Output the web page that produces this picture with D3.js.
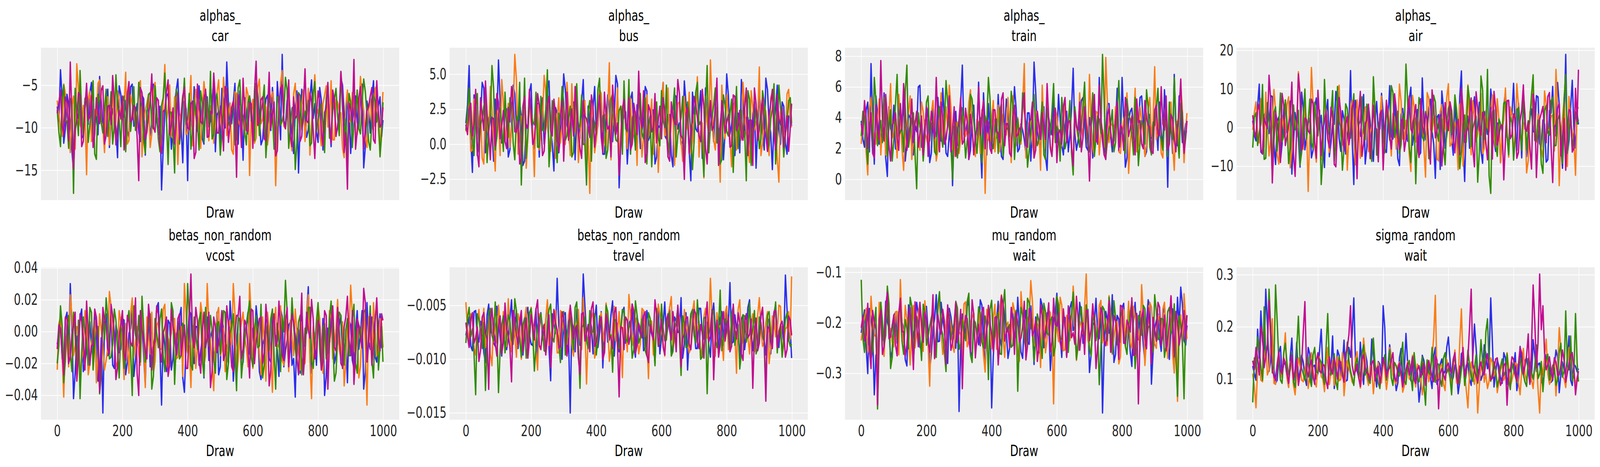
<!DOCTYPE html>
<html>
<head>
<meta charset="utf-8">
<script src="https://cdn.jsdelivr.net/npm/d3@7"></script>
<style>
  html, body { margin: 0; padding: 0; background: #ffffff; overflow: hidden; }
  #trace-plot svg { display: block; }
</style>
</head>
<body>
<div id="trace-plot"></div>
<script>
// Draw index of the stored samples: main set every 10th draw (plus the last), mid set in between
const draws = d3.range(0, 1000, 10).concat([999]);
const drawsMid = d3.range(5, 1000, 10);
const xTicks = [0, 200, 400, 600, 800, 1000];
const xTickLabels = ["0", "200", "400", "600", "800", "1000"];

// Chain colours (arviz default cycle)
const chainColors = ["#2a2eec", "#fa7c17", "#328c06", "#c10c90"];

// Panel titles
const titles = [
  ["alphas_", "car"], ["alphas_", "bus"], ["alphas_", "train"], ["alphas_", "air"],
  ["betas_non_random", "vcost"], ["betas_non_random", "travel"], ["mu_random", "wait"], ["sigma_random", "wait"]
];

// Y ticks per panel
const yTicks = [
  [-15, -10, -5], [-2.5, 0, 2.5, 5], [0, 2, 4, 6, 8], [-10, 0, 10, 20],
  [-0.04, -0.02, 0, 0.02, 0.04], [-0.015, -0.01, -0.005], [-0.3, -0.2, -0.1], [0.1, 0.2, 0.3]
];
const yTickLabels = [
  ["\u221215", "\u221210", "\u22125"], ["\u22122.5", "0.0", "2.5", "5.0"], ["0", "2", "4", "6", "8"], ["\u221210", "0", "10", "20"],
  ["\u22120.04", "\u22120.02", "0.00", "0.02", "0.04"], ["\u22120.015", "\u22120.010", "\u22120.005"], ["\u22120.3", "\u22120.2", "\u22120.1"], ["0.1", "0.2", "0.3"]
];

// alphas_ car, one array per chain
const alphasCar = [
  [-7.5,-3.2,-11.8,-6.1,-9.4,-15.1,-8.2,-5.6,-10.9,-7.0,-5.9,-11.6,-8.8,-4.0,-9.7,-6.5,-12.3,-7.8,-10.2,-5.1,-9.0,-6.8,-11.1,-4.9,-8.4,-10.5,-6.2,-13.2,-7.7,-9.6,-5.4,-10.8,-17.3,-8.1,-6.0,-12.5,-7.3,-4.3,-9.9,-6.9,-16.2,-8.7,-5.2,-10.4,-7.6,-11.9,-6.4,-9.2,-4.6,-8.5,-12.0,-6.7,-2.3,-9.5,-7.1,-10.7,-5.7,-13.8,-8.0,-6.3,-10.1,-4.8,-8.9,-11.4,-6.6,-9.3,-5.3,-12.8,-7.4,-1.4,-9.8,-6.0,-11.0,-7.9,-15.3,-5.5,-8.6,-10.3,-4.4,-7.2,-11.7,-6.8,-9.0,-5.0,-12.2,-7.5,-10.0,-4.2,-8.3,-6.1,-13.0,-7.7,-9.4,-5.8,-14.7,-6.9,-10.6,-4.5,-8.8,-6.4,-9.1],
  [-6.8,-10.2,-4.9,-8.1,-12.9,-6.3,-2.5,-9.6,-7.4,-15.5,-5.7,-11.3,-8.5,-4.4,-10.0,-7.0,-12.0,-5.2,-9.3,-6.6,-8.9,-3.5,-11.5,-7.2,-9.8,-5.0,-13.4,-8.0,-6.1,-10.7,-4.7,-9.1,-12.6,-2.6,-7.8,-11.0,-6.4,-14.3,-8.3,-5.5,-10.5,-3.9,-8.6,-6.9,-12.4,-4.6,-9.4,-7.5,-11.8,-5.9,-8.2,-4.1,-10.9,-7.1,-13.1,-6.0,-9.7,-8.8,-5.3,-15.6,-6.7,-11.2,-4.3,-9.0,-7.6,-10.4,-5.8,-16.8,-8.4,-3.3,-10.1,-6.5,-12.7,-4.8,-8.7,-7.3,-11.6,-5.4,-9.5,-3.8,-7.9,-12.1,-6.2,-9.9,-4.5,-11.4,-7.0,-8.3,-13.5,-5.6,-9.2,-6.8,-10.8,-4.0,-8.0,-12.3,-6.6,-10.3,-5.1,-12.8,-5.8],
  [-7.9,-12.2,-5.0,-9.3,-6.6,-17.7,-8.4,-3.3,-11.0,-6.2,-9.7,-4.5,-13.7,-7.0,-10.6,-5.5,-8.8,-11.9,-3.8,-9.1,-6.9,-12.8,-5.3,-8.5,-10.3,-4.7,-7.6,-13.0,-6.1,-9.8,-5.1,-11.3,-7.4,-3.6,-14.3,-8.2,-15.3,-6.4,-10.0,-4.2,-8.9,-12.5,-6.7,-9.4,-5.7,-11.7,-7.2,-3.4,-10.8,-6.0,-13.2,-8.0,-5.4,-9.9,-7.5,-11.1,-4.4,-8.6,-12.0,-6.3,-9.5,-4.9,-10.9,-7.1,-13.5,-5.8,-8.3,-11.5,-6.5,-9.2,-4.1,-12.4,-7.7,-14.9,-5.9,-10.2,-8.1,-6.8,-11.8,-4.6,-9.0,-7.3,-12.9,-5.2,-10.5,-6.7,-8.7,-3.5,-11.2,-13.9,-7.0,-9.6,-5.6,-10.7,-4.3,-8.4,-12.6,-6.2,-9.3,-13.4,-7.0],
  [-8.3,-5.6,-10.8,-7.0,-2.3,-14.8,-9.1,-6.2,-11.6,-4.8,-8.7,-12.3,-6.5,-9.5,-5.1,-10.9,-7.4,-3.9,-12.0,-8.0,-6.3,-10.2,-4.6,-9.0,-7.7,-16.2,-5.9,-11.3,-8.5,-3.7,-10.5,-6.8,-13.0,-7.9,-4.4,-9.6,-11.9,-6.0,-8.8,-5.3,-10.0,-7.2,-13.6,-4.9,-9.3,-6.6,-11.1,-8.1,-3.6,-10.6,-7.5,-12.7,-5.5,-9.8,-6.9,-15.8,-8.4,-4.2,-10.3,-7.1,-12.4,-2.2,-9.2,-6.4,-11.5,-3.5,-8.6,-13.3,-7.3,-5.0,-10.1,-4.4,-12.2,-8.9,-6.1,-11.0,-3.1,-9.4,-7.0,-13.6,-5.7,-10.7,-8.2,-4.7,-11.8,-6.7,-9.7,-3.4,-12.9,-17.2,-7.8,-2.0,-10.4,-5.2,-12.5,-8.0,-6.3,-11.4,-4.5,-9.9,-7.6]
];
const alphasCarMid = [
  [-9.2,-6.4,-10.1,-7.3,-12.7,-5.8,-8.9,-11.2,-6.9,-9.6,-4.7,-8.2,-10.8,-7.0,-12.1,-5.5,-9.4,-7.7,-13.5,-6.1,-8.6,-10.4,-5.2,-9.8,-7.2,-11.6,-6.6,-8.0,-10.9,-4.9,-9.1,-7.5,-12.4,-6.3,-8.7,-10.2,-5.6,-9.3,-14.1,-7.8,-6.0,-10.6,-8.4,-5.1,-11.3,-7.4,-9.9,-6.7,-12.8,-8.1,-5.4,-10.0,-7.1,-9.5,-4.8,-11.9,-8.3,-6.5,-10.7,-7.6,-9.0,-5.9,-12.0,-8.8,-6.2,-10.3,-7.9,-4.6,-11.4,-9.2,-6.8,-8.5,-13.0,-5.7,-9.7,-7.3,-11.1,-6.4,-8.9,-10.5,-5.3,-12.6,-7.0,-9.4,-6.1,-10.8,-8.2,-5.0,-11.7,-7.7,-9.6,-6.3,-10.1,-4.9,-12.2,-8.0,-6.6,-9.8,-7.4,-11.0],
  [-8.4,-11.0,-6.0,-9.7,-7.3,-12.5,-5.4,-10.2,-8.1,-6.7,-11.6,-7.9,-4.8,-9.3,-12.9,-6.4,-8.8,-10.6,-5.7,-9.0,-7.5,-11.9,-6.2,-8.5,-10.0,-4.5,-9.6,-7.1,-12.3,-5.9,-8.7,-10.5,-6.8,-9.2,-5.0,-11.2,-7.7,-8.9,-6.3,-10.8,-7.4,-12.1,-5.5,-9.9,-8.0,-6.6,-11.5,-7.2,-9.4,-4.4,-10.3,-6.9,-8.6,-12.6,-5.8,-9.1,-7.6,-10.9,-6.1,-8.3,-11.8,-5.3,-9.5,-7.0,-12.0,-6.5,-8.2,-10.4,-4.7,-9.8,-7.8,-11.3,-6.0,-8.7,-10.1,-5.6,-9.0,-13.2,-6.8,-8.4,-10.7,-7.2,-5.1,-9.6,-11.4,-6.7,-8.1,-12.4,-7.5,-9.3,-5.9,-10.6,-8.5,-6.3,-11.1,-7.9,-9.7,-5.4,-10.2,-8.8],
  [-10.5,-6.8,-9.1,-12.4,-7.2,-5.4,-10.9,-8.3,-6.6,-11.7,-8.0,-13.1,-6.1,-9.4,-7.7,-11.0,-5.8,-9.9,-7.4,-12.2,-6.3,-8.8,-10.4,-5.2,-9.5,-7.0,-11.4,-8.6,-5.9,-10.1,-7.8,-12.8,-6.5,-9.0,-8.2,-10.7,-5.5,-11.9,-7.3,-9.6,-6.0,-10.3,-8.5,-12.6,-7.1,-5.7,-9.8,-11.3,-6.9,-8.4,-10.8,-6.2,-9.3,-7.6,-12.0,-5.3,-8.9,-10.6,-7.0,-9.2,-11.5,-6.7,-8.1,-5.0,-10.2,-7.9,-12.5,-6.4,-9.7,-8.3,-5.6,-10.0,-7.5,-11.8,-6.2,-9.1,-8.7,-12.1,-5.9,-10.4,-7.3,-9.5,-6.5,-11.2,-8.0,-5.4,-10.9,-7.7,-9.0,-6.0,-12.3,-8.6,-10.1,-7.1,-5.8,-11.6,-9.4,-6.8,-8.2,-10.7],
  [-7.1,-9.8,-6.4,-11.5,-8.6,-10.3,-5.9,-12.2,-7.8,-9.1,-6.2,-10.7,-8.4,-5.6,-11.9,-7.5,-9.6,-6.8,-10.0,-8.9,-12.6,-6.0,-9.3,-7.4,-11.1,-5.3,-8.7,-10.5,-7.0,-9.9,-6.5,-12.0,-8.1,-5.8,-10.8,-7.7,-9.2,-11.4,-6.3,-8.5,-10.2,-6.9,-12.9,-7.3,-9.5,-5.5,-11.0,-8.3,-6.6,-10.6,-8.8,-5.2,-11.7,-7.6,-9.0,-6.1,-12.3,-8.0,-10.4,-7.2,-5.7,-9.7,-6.7,-11.3,-8.2,-10.1,-7.0,-12.7,-5.4,-9.4,-7.9,-10.9,-6.4,-8.6,-11.6,-7.4,-9.2,-5.9,-10.3,-8.7,-6.8,-12.1,-7.7,-9.9,-5.6,-11.0,-8.4,-6.2,-10.6,-7.1,-9.3,-12.5,-6.5,-8.9,-10.0,-7.5,-5.3,-11.8,-8.1,-9.6]
];

// alphas_ bus
const alphasBus = [
  [1.5,5.6,-2.0,2.7,0.3,4.4,-0.6,1.8,0.9,3.2,6.0,0.1,2.4,-0.9,1.3,3.6,0.6,2.0,-1.2,1.1,4.3,-0.3,2.9,1.6,0.0,3.9,1.0,-1.9,2.2,0.7,5.0,1.4,-0.5,3.0,1.9,0.4,4.6,-2.3,1.2,2.6,0.8,3.4,-0.7,1.7,2.8,0.2,4.9,-3.1,1.5,2.3,0.5,3.7,-0.2,1.9,1.0,4.1,0.3,2.5,-1.4,1.3,3.1,0.6,2.1,-0.8,3.5,1.1,0.0,4.5,1.8,-2.6,2.4,0.9,3.8,-0.4,1.6,2.7,0.2,4.0,1.4,-1.1,5.0,0.7,2.9,1.2,-0.6,3.3,1.9,0.4,2.2,-1.7,3.6,0.8,4.7,1.5,-1.8,2.5,1.0,3.0,0.1,2.0,1.3],
  [0.9,3.1,-0.4,2.2,1.5,-1.0,3.7,0.6,2.5,-1.9,1.8,4.6,0.2,2.9,1.1,6.4,-0.7,2.0,3.3,0.4,1.6,-2.3,2.8,0.9,4.9,1.3,-0.5,3.0,1.9,0.1,2.6,4.4,-0.8,1.4,3.5,0.7,2.2,-1.6,-3.5,1.8,0.3,3.9,1.2,-0.3,5.8,2.1,0.8,-1.2,2.7,1.5,3.6,0.0,2.3,4.2,-0.9,1.7,0.5,3.2,1.0,-2.0,2.4,0.6,4.0,1.6,-1.5,2.9,0.2,3.4,1.1,-0.6,2.0,4.8,0.9,-2.4,1.5,6.0,0.3,2.6,-2.7,1.9,3.5,0.4,2.2,-0.4,1.3,4.4,0.8,-1.3,2.7,1.6,5.5,0.1,2.3,-0.8,3.7,1.0,-2.7,2.4,0.6,3.9,1.2],
  [1.0,4.0,0.3,2.6,-0.5,1.8,3.2,0.9,5.6,-0.4,2.1,1.2,3.7,0.5,2.8,-1.1,1.6,-2.9,4.7,0.8,2.4,1.4,-0.2,3.4,1.0,5.3,0.4,2.2,-1.3,1.7,3.0,0.6,2.7,-0.6,4.3,1.3,0.0,-2.9,3.1,1.9,0.7,4.7,2.0,-1.0,1.5,3.6,0.3,2.4,-0.7,1.1,4.6,1.8,-0.4,2.9,0.8,3.3,1.4,-1.6,2.1,0.5,3.8,1.2,-0.9,2.5,4.0,0.6,1.9,-1.8,3.0,1.0,0.2,4.4,1.6,-2.3,5.6,1.3,2.8,0.1,-1.4,3.5,0.9,2.2,-2.0,4.1,1.5,0.4,-2.6,3.2,1.1,2.6,-0.3,3.8,1.7,0.0,2.5,-1.4,4.2,1.4,0.7,3.1,1.5],
  [1.4,2.5,0.6,3.9,-1.6,2.1,4.5,0.8,1.9,-0.1,3.0,1.3,0.2,2.6,4.1,0.9,1.7,-1.0,3.4,1.2,2.2,0.4,3.6,1.5,-0.5,2.8,1.0,3.2,0.3,2.0,-1.2,3.7,1.4,0.6,2.4,-0.3,3.1,1.8,0.5,2.7,1.1,3.5,-0.6,2.0,1.3,4.2,0.7,-2.2,2.5,1.6,3.3,0.0,2.1,5.2,1.2,-1.3,2.8,0.9,3.6,1.7,0.4,2.3,-0.9,3.0,1.5,4.6,0.6,-2.5,2.6,1.0,3.4,1.9,0.2,2.7,-1.4,3.1,1.3,4.7,0.5,2.2,1.6,-0.2,3.5,1.0,2.4,0.3,4.0,1.7,-1.5,2.9,1.1,3.3,0.6,2.0,3.9,-0.4,1.8,2.6,0.9,-0.5,2.9]
];
const alphasBusMid = [
  [2.8,0.4,3.5,-0.8,1.9,4.0,0.7,2.3,-1.2,1.6,3.1,0.2,2.5,-0.4,4.2,1.1,2.9,-1.5,1.4,3.7,0.5,2.1,-0.9,3.3,1.2,4.5,0.0,2.6,-0.6,1.8,3.9,0.9,2.2,-1.1,1.5,3.0,0.3,2.7,-0.2,4.1,1.3,2.4,-0.7,3.5,0.8,1.9,4.3,0.1,2.0,-1.4,3.2,1.0,2.8,-0.3,1.7,3.8,0.6,2.4,-0.9,1.2,4.4,0.4,2.1,-1.6,3.4,1.5,0.2,2.9,-0.5,3.7,1.1,2.3,-1.0,4.0,0.7,1.8,3.1,-0.3,2.6,0.9,3.5,1.4,-0.8,2.2,4.6,0.5,1.9,-1.3,3.0,1.2,2.5,-0.4,3.9,0.8,1.6,4.2,0.0,2.7,-0.7,1.9],
  [1.9,-0.5,3.2,0.8,2.6,-1.4,1.3,4.1,0.2,2.4,-0.8,3.0,1.5,-0.2,2.2,4.6,0.6,1.8,-1.7,3.4,1.0,2.7,-0.4,1.6,3.8,0.3,2.1,-1.0,3.3,1.2,0.0,2.5,4.3,0.9,-1.3,1.7,3.1,0.4,2.8,-0.6,1.4,3.6,0.1,2.3,-1.1,1.9,4.0,0.7,2.6,-0.3,3.2,1.1,-1.5,2.0,0.5,3.5,1.6,-0.7,2.9,0.8,4.4,1.3,-0.1,2.4,0.6,3.0,-1.2,1.8,3.7,0.2,2.2,-0.9,1.5,3.4,0.9,2.7,-0.4,1.1,4.2,0.4,2.0,-1.6,3.1,1.2,0.3,2.6,-0.2,3.8,1.0,1.7,-0.8,2.9,0.6,3.3,1.4,-1.0,2.3,0.8,3.6,1.5],
  [2.3,0.9,-0.8,3.6,1.4,2.7,-1.3,1.9,4.0,0.5,2.6,-0.5,1.2,3.3,0.1,2.0,4.4,0.8,-1.0,2.9,1.6,3.7,-0.2,1.0,2.5,-1.6,3.1,0.6,2.2,4.1,0.3,1.8,-0.9,2.8,1.1,3.5,0.0,2.4,-1.2,1.5,3.9,0.7,2.1,-0.4,3.2,1.3,0.2,2.7,4.5,0.9,-0.7,2.3,1.6,3.6,0.4,-1.4,2.0,1.0,3.0,-0.1,1.7,4.2,0.5,2.5,-0.9,1.2,3.4,0.8,2.1,-1.8,3.7,1.4,0.0,2.6,-0.6,1.9,4.0,1.1,-1.1,2.8,0.6,3.2,1.5,-0.3,2.4,0.9,3.8,-1.5,1.3,2.1,0.4,3.0,-0.5,1.8,4.3,0.7,2.6,-0.9,1.6,3.3],
  [0.7,2.9,1.5,-0.6,3.3,1.0,2.2,-1.1,1.8,3.6,0.4,2.4,-0.3,1.6,3.0,0.9,-1.4,2.7,1.2,3.9,0.0,1.9,2.8,-0.8,1.4,3.4,0.6,2.1,-0.5,3.1,1.7,0.3,2.5,4.1,0.8,-1.0,2.0,1.3,3.5,-0.2,2.3,0.5,3.7,1.1,-0.9,2.6,1.5,0.2,3.2,1.0,-0.4,2.9,0.7,1.8,3.8,-0.6,2.4,1.2,0.1,2.7,3.3,0.9,-1.2,2.0,1.4,3.6,0.4,2.2,-0.7,1.6,2.8,0.6,3.9,-0.3,1.9,1.0,2.5,-1.5,3.1,0.8,2.1,-0.1,3.4,1.3,0.5,2.6,-0.8,1.7,4.0,0.3,2.3,1.1,-0.5,2.9,0.8,3.5,1.4,-0.2,2.0,1.2]
];

// alphas_ train
const alphasTrain = [
  [3.8,2.1,5.0,7.5,1.0,4.2,2.7,5.6,0.2,3.3,4.8,1.9,3.6,5.2,2.4,4.0,1.6,3.1,6.1,2.2,3.9,1.1,4.6,2.8,3.5,5.9,1.7,2.9,-0.4,4.4,2.5,7.4,3.0,1.3,4.1,2.2,6.3,0.1,3.4,4.9,2.0,3.7,5.5,1.5,3.2,4.5,2.3,6.0,1.8,3.6,2.6,4.3,1.2,7.6,3.1,2.0,4.7,0.6,3.3,5.1,2.4,3.9,1.6,4.4,2.9,7.2,1.9,3.4,5.3,2.1,4.0,1.4,3.7,6.6,2.5,3.0,4.9,1.8,3.5,2.3,6.6,0.8,3.8,4.6,2.0,3.2,5.4,1.5,3.9,2.7,4.3,1.9,3.1,5.8,-0.5,3.6,6.8,2.2,4.1,2.8,3.5],
  [2.3,4.6,0.3,5.3,2.9,3.7,1.6,4.9,2.1,6.2,3.0,1.4,4.2,0.6,3.5,5.4,2.5,3.9,1.9,4.4,2.7,3.3,5.1,1.2,3.8,2.4,4.7,6.1,2.0,3.4,1.7,4.1,2.8,5.0,3.2,1.5,3.6,4.5,-0.9,2.6,3.9,1.8,4.8,2.9,3.4,5.3,1.1,3.1,4.0,2.3,7.5,2.6,3.7,1.4,4.3,0.6,3.5,5.7,2.2,3.0,4.1,1.9,3.6,2.5,4.9,1.3,3.4,5.6,2.7,3.8,6.8,2.0,4.4,1.6,3.2,7.9,2.4,3.6,4.7,1.8,3.0,4.2,0.4,3.5,5.9,2.2,3.9,1.5,4.6,2.8,7.3,3.3,1.7,4.0,2.5,5.0,0.6,3.7,6.1,1.1,4.3],
  [2.8,4.1,1.0,3.5,6.6,2.2,3.8,5.3,1.5,4.5,2.6,6.8,3.1,1.8,7.4,2.9,4.3,-0.6,3.4,1.2,5.0,2.5,3.9,1.6,4.7,2.1,6.4,3.3,0.0,3.7,2.3,4.6,1.4,3.2,5.2,2.7,3.6,1.1,4.1,6.6,2.4,3.5,1.7,4.9,2.8,3.3,5.7,1.3,3.9,2.6,4.4,0.8,3.0,5.5,2.2,3.7,1.6,4.6,2.9,6.2,3.4,1.2,4.0,2.5,5.1,0.3,3.6,2.1,4.8,3.1,1.8,5.6,2.7,3.9,8.1,1.4,3.3,4.5,2.4,6.4,3.0,1.7,4.2,2.9,5.3,0.9,3.8,2.3,4.7,1.6,3.5,5.9,2.6,4.0,1.5,3.2,6.6,2.8,4.9,1.9,3.1],
  [3.6,5.1,2.0,4.3,1.4,3.2,7.7,2.5,4.0,1.2,3.8,2.7,4.9,6.2,1.9,3.5,2.4,4.4,3.0,1.6,4.7,2.9,3.3,6.6,1.8,4.1,2.6,5.4,3.1,1.5,3.9,2.3,4.6,1.3,3.4,2.8,6.0,4.2,2.0,3.7,1.7,4.5,3.0,5.2,2.2,3.6,1.5,4.8,2.9,3.3,5.6,2.1,3.9,1.4,4.4,2.6,3.5,6.2,2.0,4.0,1.1,3.2,4.7,2.4,3.8,0.9,3.4,5.0,2.7,3.6,-0.1,4.3,2.5,6.1,3.0,1.3,4.6,2.2,3.9,1.9,3.3,5.3,2.8,4.1,1.6,3.7,2.3,5.1,3.5,1.8,4.5,2.9,6.0,3.2,1.9,4.2,2.6,3.4,6.5,1.7,3.8]
];
const alphasTrainMid = [
  [2.6,4.5,1.8,3.9,5.4,2.3,3.2,1.4,4.7,3.0,2.0,5.1,3.6,1.2,4.2,2.8,3.5,6.0,2.1,3.8,4.6,1.7,3.1,5.3,2.5,3.9,1.5,4.4,3.3,2.2,5.0,2.9,3.7,1.9,4.8,3.1,2.4,5.6,1.6,3.5,4.1,2.7,3.4,1.3,5.2,2.6,3.9,4.6,2.0,3.2,1.7,4.3,3.0,5.7,2.4,3.6,1.5,4.0,2.9,3.7,5.5,2.2,3.4,1.8,4.6,3.0,2.5,5.1,3.8,1.9,3.3,4.7,2.3,3.6,1.6,4.9,2.8,3.5,5.9,2.1,3.9,1.4,4.4,3.1,2.6,5.3,3.7,1.8,4.2,2.9,3.4,5.0,2.0,3.8,4.5,1.7,3.2,5.4,2.4,3.6],
  [3.9,1.8,4.6,3.1,2.3,5.2,3.5,1.6,4.1,2.7,3.6,5.5,2.0,3.3,4.4,1.3,3.8,2.5,5.0,3.0,2.2,4.3,3.5,1.9,5.6,2.8,3.4,4.7,1.5,3.7,2.6,4.0,3.2,5.8,2.1,3.9,1.7,4.5,3.0,2.4,5.1,3.3,1.8,4.2,2.9,3.6,5.4,2.2,3.1,4.8,1.4,3.7,2.6,4.4,3.2,6.1,2.0,3.5,1.6,4.6,3.0,2.3,5.2,3.8,1.9,4.1,2.7,3.4,5.7,2.5,3.6,1.5,4.3,3.1,2.1,5.0,3.5,2.8,4.2,1.7,3.9,5.6,2.4,3.3,1.8,4.7,3.0,2.2,5.3,3.7,2.6,4.0,1.4,3.5,4.9,2.3,3.8,1.9,4.4,3.2],
  [4.4,2.5,3.7,1.9,5.1,3.0,2.4,4.6,3.6,1.2,4.9,2.8,3.3,5.7,2.1,3.9,1.6,4.3,3.1,2.6,5.4,3.5,1.8,4.1,2.9,3.6,5.0,2.2,3.4,1.4,4.7,3.2,2.5,5.5,3.8,1.7,4.0,2.7,3.5,5.2,2.0,3.9,4.5,1.5,3.3,2.8,4.8,3.0,2.3,5.6,3.7,1.9,4.2,3.1,2.6,5.0,1.3,3.8,4.4,2.4,3.2,5.3,2.0,3.6,1.7,4.7,2.9,3.4,6.3,2.2,3.8,1.5,4.1,3.0,5.1,2.5,3.6,1.8,4.5,3.3,2.7,5.2,3.9,1.6,4.0,2.4,3.5,5.8,2.1,3.7,4.6,2.9,1.9,3.4,5.0,2.6,3.8,1.4,4.3,3.1],
  [2.9,4.0,3.4,1.7,4.8,2.6,3.9,5.5,2.2,3.5,4.3,1.9,3.2,4.6,2.8,5.2,3.6,2.1,4.1,3.3,1.5,4.4,2.7,3.8,5.0,2.3,3.5,1.8,4.7,3.0,5.3,2.5,3.7,4.2,1.6,3.4,2.9,5.1,3.8,2.0,4.5,3.1,2.4,5.6,3.6,1.7,4.0,2.8,3.3,4.9,2.2,3.7,5.0,1.9,3.5,4.3,2.6,3.9,1.5,4.6,3.0,2.3,5.3,3.7,2.1,4.4,3.2,1.8,4.7,2.8,3.5,5.5,2.4,3.9,1.6,4.2,3.1,2.5,5.0,3.6,1.9,4.6,3.3,2.7,5.2,3.8,2.0,4.0,3.4,1.7,4.8,2.9,3.6,5.4,2.3,3.9,1.8,4.5,3.2,2.7]
];

// alphas_ air
const alphasAir = [
  [1.8,-3.4,11.2,-6.8,4.3,-1.5,8.0,-9.5,2.7,-4.2,6.1,0.4,-12.0,3.8,-2.6,9.1,-5.7,1.2,-7.8,5.4,-0.8,3.1,-10.3,7.2,-3.9,0.9,5.8,-6.1,2.3,-1.9,14.7,-14.7,4.6,-2.2,8.5,-5.0,1.6,-8.7,6.7,-0.3,3.5,-6.4,10.8,-2.9,0.6,-9.8,4.9,-1.2,7.3,-4.5,2.0,-7.2,12.8,-3.1,5.2,-0.9,-13.1,3.3,9.4,-5.3,1.4,-2.7,6.3,-8.2,14.6,-13.9,2.9,-4.8,7.9,0.2,-6.0,4.1,-1.7,9.9,-3.6,1.1,-9.0,5.6,-2.4,3.7,11.4,-5.9,0.7,6.9,-7.5,2.5,-1.0,8.2,-4.1,1.9,-8.9,4.4,10.6,-2.0,6.0,-10.5,18.9,-3.3,12.2,-5.2,0.8],
  [-0.6,6.6,-3.9,2.2,9.1,-7.3,0.9,4.5,-9.4,3.0,-1.8,7.9,-5.2,1.5,14.4,-2.6,5.8,-16.5,15.5,-4.7,2.6,-8.3,6.4,-0.4,3.9,-6.0,9.6,-2.1,1.0,-11.0,4.8,-3.3,7.1,-7.9,0.3,5.5,-1.4,10.1,-4.6,2.8,-9.8,6.2,-0.8,3.6,-5.5,11.2,-2.9,1.8,-6.9,8.3,-3.7,0.5,4.2,-12.8,7.6,-1.1,2.9,-8.6,5.9,-0.2,11.3,-4.0,1.3,-10.9,6.8,-2.3,11.0,-7.0,3.4,-1.6,8.8,-5.4,0.1,4.7,-3.0,7.4,-9.1,2.0,-0.9,5.3,-6.6,11.3,-2.5,0.6,-11.7,4.0,9.8,-3.8,1.7,-7.7,6.1,-0.5,3.2,15.0,-15.0,2.4,-4.4,8.0,-1.3,-12.3,4.9],
  [-5.2,3.8,-1.2,11.1,-7.9,2.0,-12.0,5.3,0.8,-3.6,7.1,-9.3,2.6,-0.5,4.4,-6.4,9.9,1.3,-4.0,6.5,-2.1,-14.7,12.4,-1.8,3.4,-8.8,10.6,0.2,-5.5,4.9,-2.7,8.7,-9.1,1.7,-0.9,6.0,-4.3,13.1,-7.1,2.4,-1.6,5.4,-3.2,9.1,0.5,-6.7,3.0,16.4,-5.0,1.1,-14.5,7.7,-2.4,4.1,-8.0,0.4,6.6,-3.5,2.1,-9.6,5.0,-1.3,8.4,-0.1,-6.2,3.2,10.7,-4.9,1.5,-14.1,13.3,-3.0,15.0,-17.0,4.5,-7.4,0.9,6.3,-2.2,2.7,-8.4,4.6,-0.6,9.2,-5.8,1.9,13.6,-3.4,0.0,-11.8,5.7,-1.9,7.8,-4.6,3.1,-9.2,13.7,-0.3,-5.6,4.0,2.1],
  [3.2,-2.5,6.0,-6.7,1.0,13.5,-14.3,4.1,-1.7,8.8,-4.6,0.7,11.7,-12.6,13.8,-5.9,2.4,-0.8,7.3,-3.6,9.6,-7.2,1.6,-2.9,5.2,-9.5,0.3,3.9,-6.1,2.8,-1.1,6.8,-13.2,9.3,-4.2,1.9,-8.0,5.7,-0.5,3.4,-10.9,7.0,-2.0,0.9,4.8,-5.6,2.3,-3.0,8.1,-1.4,5.9,-7.7,0.6,3.7,-4.8,9.7,-2.6,1.2,-9.9,6.4,-0.7,4.3,-6.5,2.0,10.2,-3.8,0.1,7.6,-10.1,4.9,-1.9,2.6,-8.3,5.1,9.3,-4.5,0.4,-13.5,6.9,-2.8,3.5,-7.9,1.8,11.0,-0.9,-5.1,8.6,-12.9,2.2,5.4,-3.9,9.0,-14.2,0.8,6.2,-2.3,-11.0,4.6,-6.3,10.1,15.0]
];
const alphasAirMid = [
  [-2.1,5.6,-6.3,3.0,-0.5,8.2,-4.4,1.7,-8.6,4.9,-1.3,6.8,-3.7,0.8,-10.2,5.1,-2.6,2.4,-5.9,7.6,0.2,-4.0,3.6,-7.5,1.1,9.3,-2.8,4.3,-6.8,0.6,-3.2,7.0,-1.0,2.9,-9.4,5.5,-4.7,1.4,-0.7,8.8,-5.6,2.1,-2.4,6.1,-8.1,3.4,0.0,-3.5,10.4,-1.6,4.6,-6.5,1.9,-0.9,7.3,-4.2,2.6,-10.8,5.0,-2.0,3.2,-7.1,0.5,8.0,-3.9,1.6,-5.3,4.4,-1.8,6.5,-9.2,2.8,-0.4,5.7,-6.1,1.0,-2.9,9.0,-4.5,3.3,-0.6,6.3,-7.8,2.0,-3.4,4.8,-1.1,7.9,-5.0,0.9,-8.3,3.8,-2.2,11.6,-4.6,1.5,-6.9,5.3,-0.2,3.6],
  [4.0,-1.9,7.4,-5.0,0.6,-3.3,9.8,-7.1,2.1,-0.3,5.9,-10.4,3.3,-2.4,8.6,-5.6,1.2,-1.0,6.2,-8.9,0.9,-3.9,4.7,-6.4,2.5,-0.8,10.9,-4.5,3.6,-1.7,7.0,-9.6,1.3,-2.6,5.2,-6.2,0.4,3.9,-4.0,8.1,-1.3,4.5,-7.3,2.6,-0.1,6.7,-3.0,1.9,-11.3,5.4,-2.2,3.1,-5.3,9.0,-0.6,2.3,-8.0,4.1,-1.5,7.7,-4.8,0.8,-2.7,5.8,-9.9,3.7,-0.2,6.9,-3.6,1.4,-6.7,4.3,-1.1,8.4,-5.1,2.2,-0.5,10.2,-7.6,3.0,-2.0,5.6,-4.2,1.7,-8.5,6.0,-1.4,3.5,-5.7,9.4,-0.7,2.9,-6.0,4.8,-2.5,7.2,-10.0,1.8,-3.1,5.5],
  [2.7,-4.6,0.9,-8.2,6.4,-1.7,3.9,-6.0,8.9,-2.3,1.6,-4.9,5.8,-0.4,-9.7,3.1,-2.8,7.3,-5.4,1.0,4.5,-7.6,2.3,-0.2,9.5,-3.8,1.5,-11.0,6.1,-1.2,3.3,-5.3,0.7,7.9,-3.1,2.6,-8.7,5.0,-0.6,3.8,-6.5,1.2,10.8,-2.5,4.2,-4.4,0.3,6.8,-9.0,2.4,-1.0,5.6,-3.4,1.8,-7.2,8.3,-0.9,3.0,-5.1,0.6,6.0,-2.1,4.7,-10.6,1.4,-3.7,7.1,-0.3,2.9,-6.3,9.8,-1.5,-12.5,4.0,-4.3,2.2,-0.8,6.6,-7.0,1.3,-2.6,5.1,-5.9,3.6,-0.1,8.5,-3.3,1.9,-9.3,4.4,-1.4,6.9,-4.7,2.0,-0.5,7.6,-6.6,3.2,-2.0,1.0],
  [-1.0,4.6,-5.8,2.5,-0.2,7.1,-3.5,1.3,-9.0,5.9,-2.3,3.0,-6.7,0.5,8.4,-4.1,2.0,-1.5,6.3,-7.9,1.8,-0.6,4.2,-5.2,2.9,-10.1,7.7,-1.8,0.9,-4.4,5.3,-2.1,3.6,-7.4,1.0,6.0,-3.0,0.2,-8.8,4.4,-1.3,2.8,-5.5,8.7,-2.7,1.5,-6.1,4.0,-0.4,3.1,-4.9,7.4,-1.6,2.2,-9.4,5.6,-0.8,3.3,-3.7,1.1,6.6,-2.5,0.7,-7.0,4.8,-1.2,2.6,-5.7,9.2,-0.5,3.9,-4.0,1.4,-8.1,5.2,-2.2,0.6,-3.3,7.0,-1.9,2.4,-6.4,4.5,-0.3,1.7,-10.7,6.2,-2.8,3.7,-1.1,8.0,-4.8,0.1,5.0,-7.3,2.3,-0.9,4.1,-5.4,1.6]
];

// betas_non_random vcost
const betasVcost = [
  [-.008,.004,-.019,.012,.030,-.042,-.003,.009,-.025,-.011,.006,-.016,.002,-.030,-.051,.011,-.006,-.021,.004,-.013,.008,-.027,-.001,.013,-.018,-.007,.005,-.033,.010,-.012,-.003,.018,-.046,-.009,.007,-.024,.001,-.015,.015,-.038,-.005,.011,-.020,.003,-.012,-.029,.009,-.004,-.017,.012,-.022,.001,-.010,.019,-.031,-.006,.008,-.019,.004,-.014,.002,.016,-.025,-.008,.006,-.017,.011,-.003,-.028,.009,-.012,.004,-.021,-.041,.001,.014,-.009,.028,-.026,-.004,.008,-.016,-.040,.002,.012,-.020,-.007,.010,-.013,-.032,.004,-.023,.013,-.002,-.036,.018,-.011,.006,-.019,.011,-.008],
  [-.024,.009,-.041,-.006,.023,-.015,.003,-.028,-.012,.007,-.020,.000,-.032,.011,-.009,-.018,.025,-.004,-.022,.013,-.010,.005,-.026,.021,-.007,-.014,.010,-.035,-.003,.012,-.019,.006,-.011,.017,-.024,-.001,.008,-.016,.003,.030,-.013,-.035,.004,-.009,.018,-.021,.030,-.006,-.037,.011,-.015,.002,-.019,.007,.030,-.028,-.002,.012,-.010,.030,-.023,.005,-.014,.009,-.031,.001,-.038,.015,-.008,-.018,.010,-.025,-.003,.014,-.012,.006,-.020,.023,-.042,-.005,.016,-.013,.003,-.027,.009,-.009,.020,-.017,-.034,.007,.029,-.011,.002,-.022,.012,-.046,-.004,.018,-.015,.008,-.010],
  [-.020,.016,-.032,.005,-.014,.012,-.027,-.042,.009,-.006,.015,-.024,.001,-.039,.011,.021,-.017,-.008,.007,-.029,.003,-.012,.013,-.040,-.002,.010,.022,-.019,.004,-.036,.008,-.010,.014,-.025,-.005,.018,-.033,.006,-.015,.002,.030,-.021,.009,-.011,.012,-.028,-.003,.010,-.018,.005,-.014,.013,-.030,-.001,.011,-.037,.007,-.016,.003,.019,-.022,.010,-.009,-.029,.004,-.012,.014,-.036,-.006,.009,.032,-.020,.021,-.011,.006,-.027,.002,.015,-.018,-.009,.018,-.024,.005,-.013,.019,-.031,-.004,.010,-.021,.008,-.015,.017,-.026,.001,.012,-.019,.016,-.029,.018,-.010,-.019],
  [-.011,.002,-.027,.008,-.016,.005,-.031,.011,-.005,.019,-.021,-.008,.009,-.038,.015,.004,-.014,.010,-.030,-.003,.013,-.018,.006,-.009,.021,-.040,.001,-.012,.017,-.024,-.006,.011,-.019,.003,-.028,.014,-.002,.008,-.015,.004,-.023,.036,-.010,.007,-.026,.012,-.004,-.035,.009,-.013,.002,-.018,.016,-.007,-.025,.010,.022,-.011,.004,-.029,.013,-.006,.008,-.020,.017,-.034,.003,-.009,.019,-.015,.006,-.022,.011,-.003,-.027,.024,-.012,.001,.020,-.017,.007,-.024,.013,-.036,.004,-.010,.015,-.020,.003,.022,-.015,-.033,.008,-.004,.027,-.019,.011,-.008,.021,-.012,.007]
];
const betasVcostMid = [
  [-.002,-.017,.008,-.012,.003,-.026,-.007,.014,-.020,.001,-.010,.010,-.031,-.004,.006,-.015,.012,-.023,-.001,-.011,.007,-.019,.002,-.028,-.006,.011,-.014,.004,-.022,-.008,.015,-.012,.000,-.025,.005,-.017,-.003,.009,-.029,-.009,.013,-.015,.003,-.021,-.005,.008,-.018,.001,-.011,-.027,.010,-.006,-.020,.004,-.013,.007,-.024,-.002,.012,-.016,-.008,.005,-.030,-.004,.009,-.019,.000,-.012,.014,-.022,-.005,.006,-.017,.002,-.026,-.009,.011,-.014,.003,-.021,-.001,.008,-.028,-.007,.010,-.015,.004,-.023,-.003,.007,-.018,.001,-.011,.013,-.025,-.006,.009,-.016,.002,-.010],
  [.005,-.015,-.003,-.022,.010,-.009,.002,-.018,.013,-.027,-.006,.007,-.013,.001,-.024,-.010,.016,-.004,-.019,.006,-.030,-.008,.011,-.016,.003,-.021,-.002,.009,-.014,-.026,.004,-.011,.014,-.020,-.005,.008,-.017,.000,-.028,.012,-.009,.003,-.023,-.001,.010,-.015,.005,-.019,-.007,.015,-.012,-.025,.002,-.008,.011,-.018,.006,-.004,-.022,.009,-.013,.001,-.027,-.006,.012,-.016,.004,-.010,.016,-.021,-.003,.007,-.015,.000,-.024,-.009,.010,-.018,.003,-.012,.008,-.026,-.005,.013,-.017,.002,-.011,.006,-.020,-.002,.011,-.014,-.029,.004,-.008,.009,-.019,.001,-.013,.005],
  [-.009,.004,-.018,.010,-.025,-.003,.007,-.014,.001,-.021,.012,-.008,.003,-.027,-.005,.009,-.016,.014,-.011,.000,-.023,.006,-.012,.016,-.006,-.019,.002,-.010,.011,-.028,-.001,.008,-.015,.004,-.022,.013,-.007,-.017,.005,-.012,.010,-.024,-.002,.007,-.018,.015,-.009,.001,-.026,.006,-.004,.012,-.020,.003,-.013,.009,-.029,-.006,.011,-.016,.002,-.010,.017,-.021,-.003,.008,-.014,.005,-.025,.000,.013,-.008,.004,-.019,.010,-.012,-.001,.015,-.023,.006,-.011,.003,-.017,.009,-.005,-.026,.012,-.008,.001,-.015,.007,-.020,.004,-.010,.014,-.002,-.018,.008,-.024,.003],
  [.004,-.013,.009,-.020,-.002,.012,-.016,.006,-.024,.001,-.009,.014,-.005,-.019,.008,-.011,.017,-.001,-.022,.005,-.014,.010,-.007,.002,-.026,.013,-.004,-.017,.007,-.010,.016,-.012,-.001,.009,-.021,.004,-.015,.011,-.006,-.023,.006,-.003,.015,-.018,.001,-.010,.012,-.025,.003,-.008,.013,-.014,.005,-.022,-.002,.010,-.017,.007,-.011,.014,-.020,.000,.009,-.013,.004,-.024,.011,-.006,.002,-.018,.015,-.009,.006,-.016,.001,-.027,.012,-.004,.008,-.014,.003,-.019,.010,-.007,.016,-.012,.000,-.022,.009,-.005,.013,-.016,.004,-.010,.018,-.008,-.021,.006,-.003,.011]
];

// betas_non_random travel
const betasTravel = [
  [-.0078,-.0061,-.0092,-.0055,-.0084,-.0070,-.0103,-.0049,-.0076,-.0088,-.0064,-.0097,-.0058,-.0081,-.0045,-.0072,-.0090,-.0060,-.0078,-.0052,-.0086,-.0068,-.0099,-.0057,-.0074,-.0047,-.0120,-.0066,-.0025,-.0083,-.0059,-.0091,-.0150,-.0071,-.0054,-.0087,-.0021,-.0079,-.0063,-.0095,-.0050,-.0076,-.0108,-.0060,-.0082,-.0046,-.0073,-.0093,-.0057,-.0085,-.0067,-.0049,-.0098,-.0070,-.0056,-.0089,-.0064,-.0077,-.0104,-.0052,-.0080,-.0047,-.0069,-.0094,-.0061,-.0075,-.0043,-.0086,-.0110,-.0058,-.0072,-.0090,-.0053,-.0081,-.0066,-.0098,-.0048,-.0078,-.0062,-.0087,-.0055,-.0029,-.0084,-.0071,-.0101,-.0059,-.0076,-.0045,-.0092,-.0067,-.0080,-.0054,-.0096,-.0063,-.0074,-.0050,-.0089,-.0070,-.0022,-.0083,-.0099],
  [-.0047,-.0083,-.0065,-.0096,-.0054,-.0075,-.0089,-.0060,-.0106,-.0071,-.0050,-.0085,-.0068,-.0044,-.0093,-.0077,-.0058,-.0100,-.0063,-.0081,-.0052,-.0074,-.0110,-.0061,-.0088,-.0045,-.0079,-.0067,-.0094,-.0055,-.0072,-.0086,-.0051,-.0097,-.0066,-.0080,-.0043,-.0123,-.0070,-.0057,-.0091,-.0064,-.0076,-.0048,-.0102,-.0069,-.0083,-.0056,-.0117,-.0073,-.0040,-.0087,-.0062,-.0095,-.0053,-.0078,-.0118,-.0065,-.0084,-.0049,-.0071,-.0097,-.0059,-.0042,-.0082,-.0068,-.0105,-.0054,-.0076,-.0090,-.0046,-.0073,-.0099,-.0061,-.0080,-.0025,-.0092,-.0057,-.0069,-.0101,-.0051,-.0078,-.0064,-.0113,-.0045,-.0083,-.0070,-.0095,-.0058,-.0075,-.0043,-.0088,-.0066,-.0104,-.0060,-.0079,-.0050,-.0097,-.0072,-.0056,-.0023],
  [-.0085,-.0052,-.0072,-.0133,-.0063,-.0090,-.0129,-.0056,-.0078,-.0047,-.0131,-.0068,-.0094,-.0059,-.0082,-.0044,-.0075,-.0098,-.0062,-.0087,-.0053,-.0111,-.0070,-.0058,-.0092,-.0066,-.0049,-.0084,-.0073,-.0103,-.0056,-.0079,-.0061,-.0091,-.0047,-.0127,-.0069,-.0083,-.0055,-.0074,-.0096,-.0060,-.0086,-.0050,-.0077,-.0112,-.0064,-.0090,-.0054,-.0081,-.0071,-.0099,-.0046,-.0085,-.0063,-.0092,-.0057,-.0075,-.0106,-.0068,-.0049,-.0083,-.0060,-.0097,-.0073,-.0052,-.0115,-.0066,-.0088,-.0058,-.0078,-.0045,-.0100,-.0062,-.0132,-.0070,-.0055,-.0089,-.0036,-.0080,-.0065,-.0093,-.0051,-.0076,-.0109,-.0059,-.0084,-.0048,-.0072,-.0095,-.0061,-.0079,-.0128,-.0056,-.0086,-.0047,-.0074,-.0098,-.0063,-.0082,-.0086],
  [-.0066,-.0089,-.0057,-.0080,-.0102,-.0061,-.0076,-.0128,-.0053,-.0085,-.0070,-.0095,-.0048,-.0078,-.0121,-.0063,-.0087,-.0055,-.0074,-.0099,-.0059,-.0082,-.0045,-.0091,-.0068,-.0079,-.0108,-.0054,-.0073,-.0088,-.0062,-.0097,-.0050,-.0081,-.0069,-.0114,-.0057,-.0076,-.0093,-.0047,-.0084,-.0065,-.0100,-.0058,-.0079,-.0090,-.0052,-.0135,-.0071,-.0061,-.0086,-.0049,-.0095,-.0067,-.0080,-.0056,-.0103,-.0074,-.0045,-.0088,-.0063,-.0096,-.0058,-.0082,-.0070,-.0050,-.0107,-.0077,-.0061,-.0091,-.0054,-.0084,-.0068,-.0099,-.0047,-.0079,-.0119,-.0064,-.0087,-.0056,-.0073,-.0093,-.0049,-.0081,-.0066,-.0101,-.0058,-.0077,-.0127,-.0062,-.0085,-.0052,-.0139,-.0071,-.0090,-.0055,-.0080,-.0065,-.0098,-.0060,-.0078]
];
const betasTravelMid = [
  [-.0069,-.0088,-.0056,-.0080,-.0065,-.0094,-.0059,-.0074,-.0085,-.0051,-.0079,-.0067,-.0091,-.0062,-.0083,-.0055,-.0072,-.0096,-.0060,-.0077,-.0087,-.0053,-.0071,-.0082,-.0064,-.0090,-.0058,-.0076,-.0069,-.0100,-.0057,-.0081,-.0066,-.0093,-.0061,-.0078,-.0050,-.0086,-.0070,-.0063,-.0089,-.0056,-.0075,-.0084,-.0059,-.0097,-.0067,-.0073,-.0052,-.0082,-.0064,-.0088,-.0060,-.0077,-.0092,-.0055,-.0071,-.0083,-.0058,-.0095,-.0068,-.0079,-.0054,-.0086,-.0065,-.0074,-.0099,-.0057,-.0081,-.0062,-.0090,-.0053,-.0076,-.0066,-.0087,-.0061,-.0072,-.0094,-.0056,-.0080,-.0068,-.0085,-.0059,-.0075,-.0063,-.0091,-.0052,-.0078,-.0070,-.0088,-.0060,-.0083,-.0066,-.0095,-.0057,-.0076,-.0069,-.0086,-.0054,-.0073],
  [-.0072,-.0058,-.0090,-.0066,-.0081,-.0053,-.0077,-.0095,-.0062,-.0085,-.0069,-.0056,-.0088,-.0074,-.0060,-.0098,-.0065,-.0079,-.0052,-.0083,-.0067,-.0092,-.0058,-.0076,-.0063,-.0087,-.0071,-.0055,-.0094,-.0064,-.0080,-.0059,-.0086,-.0070,-.0054,-.0091,-.0068,-.0078,-.0061,-.0099,-.0073,-.0057,-.0084,-.0066,-.0089,-.0051,-.0075,-.0082,-.0063,-.0093,-.0059,-.0077,-.0068,-.0086,-.0055,-.0080,-.0064,-.0096,-.0071,-.0058,-.0085,-.0067,-.0052,-.0090,-.0074,-.0061,-.0083,-.0069,-.0094,-.0056,-.0078,-.0065,-.0088,-.0053,-.0076,-.0060,-.0097,-.0070,-.0082,-.0057,-.0091,-.0066,-.0075,-.0054,-.0087,-.0062,-.0079,-.0068,-.0093,-.0059,-.0073,-.0084,-.0056,-.0089,-.0064,-.0077,-.0051,-.0086,-.0070,-.0081],
  [-.0061,-.0079,-.0095,-.0058,-.0074,-.0066,-.0089,-.0053,-.0083,-.0070,-.0092,-.0060,-.0077,-.0064,-.0086,-.0055,-.0081,-.0068,-.0099,-.0057,-.0075,-.0088,-.0062,-.0071,-.0093,-.0054,-.0080,-.0067,-.0085,-.0059,-.0096,-.0065,-.0073,-.0052,-.0087,-.0070,-.0061,-.0090,-.0076,-.0058,-.0082,-.0069,-.0094,-.0056,-.0078,-.0063,-.0088,-.0072,-.0055,-.0084,-.0066,-.0091,-.0059,-.0080,-.0068,-.0097,-.0062,-.0076,-.0053,-.0086,-.0071,-.0082,-.0057,-.0093,-.0065,-.0079,-.0060,-.0089,-.0074,-.0054,-.0085,-.0067,-.0098,-.0061,-.0077,-.0056,-.0083,-.0070,-.0092,-.0063,-.0078,-.0058,-.0087,-.0068,-.0095,-.0060,-.0074,-.0081,-.0055,-.0090,-.0066,-.0084,-.0059,-.0076,-.0063,-.0094,-.0069,-.0080,-.0057,-.0088],
  [-.0079,-.0063,-.0085,-.0070,-.0092,-.0057,-.0081,-.0066,-.0075,-.0097,-.0060,-.0084,-.0071,-.0089,-.0055,-.0078,-.0065,-.0093,-.0062,-.0082,-.0069,-.0054,-.0087,-.0074,-.0096,-.0059,-.0080,-.0067,-.0090,-.0056,-.0077,-.0086,-.0063,-.0072,-.0099,-.0058,-.0083,-.0068,-.0053,-.0088,-.0074,-.0061,-.0094,-.0066,-.0080,-.0057,-.0085,-.0070,-.0091,-.0064,-.0078,-.0055,-.0087,-.0072,-.0060,-.0096,-.0068,-.0082,-.0059,-.0076,-.0089,-.0064,-.0073,-.0056,-.0093,-.0069,-.0081,-.0062,-.0086,-.0071,-.0058,-.0090,-.0075,-.0065,-.0084,-.0054,-.0079,-.0098,-.0067,-.0083,-.0061,-.0088,-.0072,-.0057,-.0095,-.0066,-.0080,-.0063,-.0077,-.0092,-.0059,-.0085,-.0070,-.0082,-.0056,-.0089,-.0068,-.0075,-.0091,-.0064]
];

// mu_random wait
const muWait = [
  [-.220,-.175,-.300,-.190,-.342,-.255,-.160,-.230,-.198,-.270,-.185,-.240,-.150,-.212,-.285,-.178,-.225,-.160,-.248,-.200,-.168,-.290,-.210,-.145,-.236,-.192,-.262,-.172,-.218,-.250,-.375,-.183,-.228,-.155,-.265,-.205,-.243,-.165,-.288,-.195,-.368,-.214,-.158,-.246,-.188,-.270,-.175,-.232,-.150,-.258,-.200,-.238,-.167,-.282,-.207,-.153,-.249,-.181,-.294,-.196,-.142,-.226,-.189,-.266,-.171,-.215,-.253,-.160,-.240,-.186,-.298,-.204,-.152,-.231,-.378,-.178,-.220,-.145,-.262,-.193,-.170,-.245,-.208,-.286,-.160,-.233,-.197,-.274,-.155,-.321,-.212,-.183,-.256,-.165,-.241,-.199,-.278,-.150,-.130,-.235,-.205],
  [-.235,-.190,-.258,-.148,-.224,-.300,-.182,-.266,-.170,-.212,-.247,-.178,-.115,-.239,-.194,-.283,-.166,-.220,-.160,-.256,-.196,-.325,-.172,-.230,-.150,-.262,-.205,-.185,-.244,-.166,-.218,-.278,-.159,-.236,-.190,-.255,-.173,-.223,-.297,-.183,-.251,-.164,-.211,-.145,-.268,-.199,-.233,-.177,-.258,-.139,-.227,-.189,-.117,-.245,-.202,-.288,-.168,-.232,-.180,-.360,-.210,-.150,-.255,-.186,-.235,-.128,-.274,-.197,-.221,-.104,-.248,-.176,-.216,-.166,-.239,-.193,-.147,-.262,-.205,-.281,-.174,-.228,-.158,-.250,-.190,-.213,-.125,-.284,-.200,-.169,-.242,-.186,-.227,-.160,-.270,-.148,-.299,-.355,-.185,-.143,-.232],
  [-.115,-.258,-.180,-.272,-.205,-.370,-.160,-.245,-.128,-.290,-.196,-.235,-.170,-.262,-.212,-.150,-.280,-.188,-.228,-.164,-.244,-.207,-.176,-.268,-.139,-.223,-.296,-.184,-.215,-.158,-.252,-.195,-.235,-.142,-.278,-.200,-.169,-.238,-.187,-.312,-.156,-.226,-.180,-.262,-.135,-.214,-.248,-.191,-.335,-.170,-.231,-.152,-.209,-.276,-.183,-.242,-.162,-.221,-.195,-.265,-.148,-.230,-.178,-.256,-.203,-.140,-.272,-.187,-.218,-.165,-.252,-.196,-.235,-.322,-.168,-.213,-.150,-.260,-.190,-.230,-.175,-.246,-.205,-.158,-.290,-.186,-.224,-.172,-.210,-.258,-.145,-.233,-.192,-.268,-.178,-.221,-.163,-.345,-.205,-.350,-.185],
  [-.210,-.236,-.162,-.290,-.198,-.362,-.175,-.247,-.140,-.228,-.185,-.265,-.152,-.218,-.244,-.170,-.292,-.202,-.160,-.238,-.193,-.258,-.145,-.226,-.211,-.174,-.282,-.196,-.240,-.160,-.215,-.330,-.186,-.233,-.155,-.269,-.204,-.178,-.250,-.166,-.222,-.190,-.283,-.147,-.236,-.208,-.170,-.262,-.199,-.230,-.158,-.245,-.180,-.217,-.276,-.165,-.232,-.194,-.257,-.152,-.206,-.239,-.173,-.268,-.188,-.220,-.148,-.254,-.201,-.176,-.235,-.163,-.290,-.212,-.183,-.245,-.157,-.226,-.197,-.272,-.168,-.240,-.205,-.151,-.262,-.360,-.190,-.228,-.170,-.281,-.213,-.160,-.245,-.185,-.231,-.147,-.267,-.198,-.222,-.176,-.185]
];
const muWaitMid = [
  [-.195,-.248,-.172,-.221,-.265,-.187,-.234,-.158,-.210,-.256,-.180,-.227,-.199,-.273,-.165,-.240,-.206,-.183,-.252,-.170,-.219,-.262,-.192,-.237,-.160,-.214,-.280,-.188,-.229,-.175,-.246,-.201,-.168,-.258,-.193,-.223,-.155,-.239,-.211,-.185,-.266,-.197,-.230,-.163,-.217,-.250,-.182,-.225,-.204,-.270,-.176,-.242,-.213,-.189,-.259,-.166,-.228,-.198,-.245,-.181,-.220,-.268,-.190,-.235,-.159,-.207,-.254,-.184,-.231,-.174,-.263,-.200,-.222,-.167,-.249,-.194,-.215,-.278,-.186,-.238,-.162,-.209,-.257,-.191,-.226,-.178,-.243,-.202,-.169,-.260,-.196,-.232,-.184,-.218,-.272,-.173,-.236,-.208,-.164,-.244],
  [-.208,-.172,-.243,-.196,-.227,-.160,-.255,-.188,-.214,-.239,-.179,-.263,-.201,-.166,-.232,-.210,-.249,-.184,-.220,-.157,-.244,-.192,-.271,-.178,-.216,-.238,-.169,-.204,-.258,-.186,-.223,-.163,-.247,-.199,-.181,-.235,-.212,-.264,-.174,-.219,-.190,-.252,-.167,-.228,-.205,-.241,-.161,-.217,-.276,-.183,-.231,-.197,-.158,-.245,-.209,-.187,-.259,-.176,-.222,-.201,-.237,-.165,-.253,-.193,-.215,-.180,-.248,-.206,-.170,-.234,-.261,-.189,-.225,-.156,-.211,-.244,-.182,-.230,-.198,-.267,-.175,-.218,-.240,-.168,-.203,-.256,-.185,-.229,-.160,-.212,-.250,-.194,-.173,-.236,-.207,-.262,-.179,-.221,-.246,-.190],
  [-.230,-.186,-.214,-.255,-.170,-.241,-.198,-.225,-.162,-.268,-.209,-.180,-.236,-.194,-.251,-.168,-.219,-.203,-.274,-.177,-.228,-.190,-.246,-.165,-.212,-.259,-.183,-.233,-.200,-.171,-.242,-.218,-.158,-.264,-.195,-.227,-.181,-.249,-.206,-.173,-.237,-.192,-.261,-.167,-.220,-.204,-.244,-.176,-.231,-.185,-.253,-.160,-.216,-.239,-.197,-.270,-.178,-.224,-.189,-.247,-.164,-.232,-.207,-.258,-.182,-.215,-.240,-.169,-.226,-.196,-.265,-.184,-.211,-.250,-.174,-.235,-.201,-.157,-.243,-.188,-.222,-.262,-.179,-.213,-.248,-.191,-.166,-.234,-.205,-.257,-.176,-.229,-.193,-.245,-.170,-.217,-.266,-.187,-.238,-.199],
  [-.187,-.224,-.251,-.176,-.212,-.193,-.262,-.168,-.231,-.205,-.243,-.181,-.217,-.266,-.190,-.228,-.159,-.247,-.200,-.179,-.235,-.211,-.270,-.184,-.222,-.197,-.165,-.254,-.208,-.239,-.174,-.219,-.192,-.259,-.183,-.227,-.245,-.170,-.214,-.201,-.257,-.188,-.233,-.163,-.220,-.249,-.196,-.180,-.238,-.209,-.273,-.172,-.226,-.194,-.248,-.185,-.216,-.161,-.237,-.203,-.181,-.253,-.210,-.167,-.229,-.242,-.189,-.221,-.262,-.177,-.213,-.198,-.246,-.171,-.234,-.206,-.258,-.186,-.223,-.166,-.240,-.195,-.218,-.264,-.182,-.230,-.173,-.251,-.207,-.190,-.236,-.169,-.225,-.255,-.199,-.212,-.178,-.244,-.202,-.232]
];

// sigma_random wait
const sigmaWait = [
  [.125,.098,.140,.172,.272,.115,.188,.092,.150,.108,.132,.085,.178,.118,.096,.145,.103,.160,.088,.126,.112,.195,.094,.137,.120,.082,.155,.105,.174,.098,.142,.255,.116,.170,.090,.134,.110,.150,.085,.128,.240,.102,.165,.118,.078,.140,.096,.187,.112,.130,.090,.056,.145,.108,.125,.082,.160,.100,.138,.115,.180,.093,.126,.072,.148,.105,.130,.088,.205,.112,.098,.165,.120,.255,.085,.136,.104,.150,.090,.118,.122,.078,.162,.108,.140,.092,.175,.115,.130,.086,.146,.120,.098,.155,.074,.132,.110,.182,.088,.124,.120],
  [.110,.045,.130,.095,.162,.118,.215,.090,.148,.102,.188,.084,.125,.070,.140,.098,.116,.082,.150,.093,.128,.105,.076,.160,.113,.088,.142,.099,.068,.134,.110,.090,.152,.083,.178,.104,.125,.072,.118,.096,.138,.080,.160,.108,.090,.132,.075,.118,.100,.145,.085,.122,.070,.112,.095,.140,.260,.102,.128,.078,.120,.088,.155,.098,.234,.110,.045,.132,.090,.035,.125,.094,.082,.140,.106,.074,.118,.098,.150,.086,.112,.128,.070,.158,.096,.118,.082,.140,.035,.108,.176,.090,.122,.068,.198,.105,.084,.160,.100,.088,.095],
  [.055,.120,.160,.098,.145,.272,.112,.280,.135,.092,.168,.108,.150,.084,.220,.120,.098,.142,.086,.160,.112,.132,.090,.225,.108,.148,.080,.126,.098,.170,.115,.088,.140,.104,.165,.120,.092,.178,.110,.082,.132,.098,.155,.088,.125,.106,.170,.090,.135,.078,.118,.095,.142,.050,.112,.160,.094,.128,.086,.150,.120,.070,.138,.100,.118,.088,.155,.104,.120,.092,.175,.110,.215,.096,.132,.085,.124,.106,.148,.080,.118,.094,.140,.108,.086,.130,.100,.165,.110,.076,.135,.098,.126,.088,.150,.104,.230,.118,.096,.225,.095],
  [.135,.160,.108,.185,.142,.250,.120,.098,.152,.110,.130,.092,.145,.116,.088,.128,.248,.104,.136,.090,.150,.112,.125,.082,.118,.140,.100,.132,.094,.160,.240,.108,.128,.086,.146,.112,.098,.135,.118,.090,.140,.104,.122,.150,.096,.130,.085,.118,.108,.142,.092,.125,.110,.088,.135,.102,.145,.043,.120,.098,.130,.112,.150,.090,.126,.105,.140,.272,.116,.094,.132,.108,.148,.098,.120,.140,.088,.126,.050,.115,.138,.096,.160,.110,.145,.090,.280,.122,.301,.240,.118,.142,.100,.132,.108,.155,.094,.128,.150,.070,.115]
];
const sigmaWaitMid = [
  [.110,.195,.230,.150,.205,.135,.120,.098,.162,.128,.105,.142,.093,.170,.115,.132,.088,.148,.124,.100,.155,.118,.136,.090,.182,.110,.145,.128,.096,.160,.185,.138,.104,.122,.150,.094,.176,.116,.133,.100,.198,.125,.140,.108,.092,.158,.119,.130,.097,.147,.112,.086,.135,.123,.102,.144,.090,.128,.110,.160,.137,.104,.118,.095,.152,.126,.099,.143,.160,.120,.108,.148,.138,.170,.112,.125,.092,.140,.106,.131,.150,.097,.122,.135,.115,.104,.146,.128,.100,.118,.133,.094,.124,.142,.108,.118,.140,.098,.128,.114],
  [.085,.120,.098,.140,.108,.175,.092,.128,.115,.146,.102,.133,.088,.112,.124,.095,.136,.104,.118,.085,.142,.100,.126,.090,.135,.110,.097,.150,.105,.120,.094,.138,.113,.101,.145,.088,.122,.107,.131,.093,.116,.104,.140,.096,.125,.110,.087,.133,.119,.099,.128,.108,.092,.136,.116,.180,.100,.124,.090,.137,.106,.121,.093,.170,.130,.078,.114,.102,.125,.088,.140,.109,.096,.132,.117,.094,.128,.105,.121,.098,.130,.092,.116,.108,.134,.098,.122,.080,.126,.142,.110,.097,.135,.114,.158,.100,.125,.148,.112,.104],
  [.140,.180,.122,.238,.165,.200,.125,.210,.098,.150,.130,.118,.094,.158,.136,.110,.125,.100,.146,.114,.138,.106,.160,.128,.119,.095,.142,.112,.130,.135,.102,.126,.117,.150,.108,.098,.141,.128,.092,.115,.146,.120,.102,.131,.112,.142,.096,.124,.106,.150,.100,.121,.088,.136,.108,.117,.128,.099,.140,.112,.102,.134,.118,.092,.140,.111,.127,.096,.146,.120,.135,.190,.124,.110,.118,.100,.138,.114,.097,.130,.106,.128,.116,.094,.139,.112,.124,.101,.133,.118,.147,.109,.120,.098,.168,.115,.125,.182,.108,.130],
  [.118,.140,.200,.122,.165,.180,.105,.128,.117,.140,.112,.125,.100,.138,.108,.190,.118,.126,.104,.135,.115,.128,.096,.142,.110,.122,.135,.106,.148,.185,.126,.115,.102,.138,.120,.109,.130,.097,.124,.112,.128,.116,.136,.102,.120,.110,.102,.130,.121,.098,.118,.104,.130,.112,.120,.095,.136,.110,.108,.125,.116,.138,.104,.124,.160,.118,.200,.128,.106,.122,.114,.132,.120,.102,.138,.112,.096,.130,.118,.142,.110,.128,.150,.125,.186,.160,.210,.170,.195,.150,.128,.115,.140,.108,.126,.135,.112,.145,.120,.100]
];

const panels = [alphasCar, alphasBus, alphasTrain, alphasAir, betasVcost, betasTravel, muWait, sigmaWait];
const panelsMid = [alphasCarMid, alphasBusMid, alphasTrainMid, alphasAirMid, betasVcostMid, betasTravelMid, muWaitMid, sigmaWaitMid];

// Figure layout (in figure pixels; the svg is stretched to the window)
const width = 5783, height = 1195;
const colLeft = [148, 1625, 3054, 4469];
const rowTop = [122, 684];
const axW = 1295, axH = 390;
const fontSize = 39;

const svg = d3.select("#trace-plot")
    .append("svg")
    .attr("viewBox", "0 0 " + width + " " + height)
    .attr("preserveAspectRatio", "none")
    .style("width", "100vw")
    .style("height", "100vh")
    .style("font-family", "'DejaVu Sans', sans-serif");

svg.append("rect")
    .attr("width", width)
    .attr("height", height)
    .attr("fill", "#ffffff");

panels.forEach(function(chains, i) {
    var col = i % 4, row = Math.floor(i / 4);
    var g = svg.append("g")
        .attr("transform", "translate(" + colLeft[col] + "," + rowTop[row] + ")");

    // Merge the two sample sets of each chain in draw order
    var traces = chains.map(function(vals, c) {
        var pts = draws.map(function(d, j) { return [d, vals[j]]; })
            .concat(drawsMid.map(function(d, j) { return [d, panelsMid[i][c][j]]; }))
            .filter(function(p) { return p[1] !== undefined; });
        return pts.sort(function(a, b) { return a[0] - b[0]; });
    });

    // Scales: matplotlib style 5% margins
    var x = d3.scaleLinear().domain([-0.05 * 999, 999 * 1.05]).range([0, axW]);
    var all = traces.flat().map(function(p) { return p[1]; });
    var lo = d3.min(all), hi = d3.max(all), pad = (hi - lo) * 0.05;
    var y = d3.scaleLinear().domain([lo - pad, hi + pad]).range([axH, 0]);

    // Axes background
    g.append("rect")
        .attr("width", axW)
        .attr("height", axH)
        .attr("fill", "#eeeeee");

    // X grid (labels only on the bottom row)
    var xAxis = d3.axisBottom(x)
        .tickValues(xTicks)
        .tickSize(-axH)
        .tickPadding(14)
        .tickFormat(function(d, j) { return row === 1 ? xTickLabels[j] : ""; });
    var gx = g.append("g")
        .attr("transform", "translate(0," + axH + ")")
        .call(xAxis);

    // Y grid and labels
    var yAxis = d3.axisLeft(y)
        .tickValues(yTicks[i])
        .tickSize(-axW)
        .tickPadding(11)
        .tickFormat(function(d, j) { return yTickLabels[i][j]; });
    var gy = g.append("g").call(yAxis);

    [gx, gy].forEach(function(ax) {
        ax.select(".domain").remove();
        ax.selectAll(".tick line")
            .attr("stroke", "#ffffff")
            .attr("stroke-width", 2);
        ax.selectAll(".tick text")
            .attr("fill", "#262626")
            .style("font-size", fontSize + "px")
            .style("font-family", "'DejaVu Sans', sans-serif");
    });

    // Clip the traces to the axes
    g.append("clipPath")
        .attr("id", "clip" + i)
        .append("rect")
        .attr("width", axW)
        .attr("height", axH);

    var line = d3.line()
        .x(function(p) { return x(p[0]); })
        .y(function(p) { return y(p[1]); });

    g.append("g")
        .attr("clip-path", "url(#clip" + i + ")")
        .selectAll("path")
        .data(traces)
        .enter().append("path")
        .attr("d", line)
        .attr("fill", "none")
        .attr("stroke", function(d, c) { return chainColors[c]; })
        .attr("stroke-width", 5)
        .attr("stroke-linejoin", "round");

    // Title (two lines)
    g.append("text")
        .attr("text-anchor", "middle")
        .attr("x", axW / 2)
        .attr("y", -69)
        .text(titles[i][0])
        .style("font-size", fontSize + "px")
        .style("fill", "#000000");
    g.append("text")
        .attr("text-anchor", "middle")
        .attr("x", axW / 2)
        .attr("y", -17)
        .text(titles[i][1])
        .style("font-size", fontSize + "px")
        .style("fill", "#000000");

    // X label
    g.append("text")
        .attr("text-anchor", "middle")
        .attr("x", axW / 2)
        .attr("y", row === 1 ? axH + 93 : axH + 45)
        .text("Draw")
        .style("font-size", fontSize + "px")
        .style("fill", "#000000");
});
</script>
</body>
</html>
